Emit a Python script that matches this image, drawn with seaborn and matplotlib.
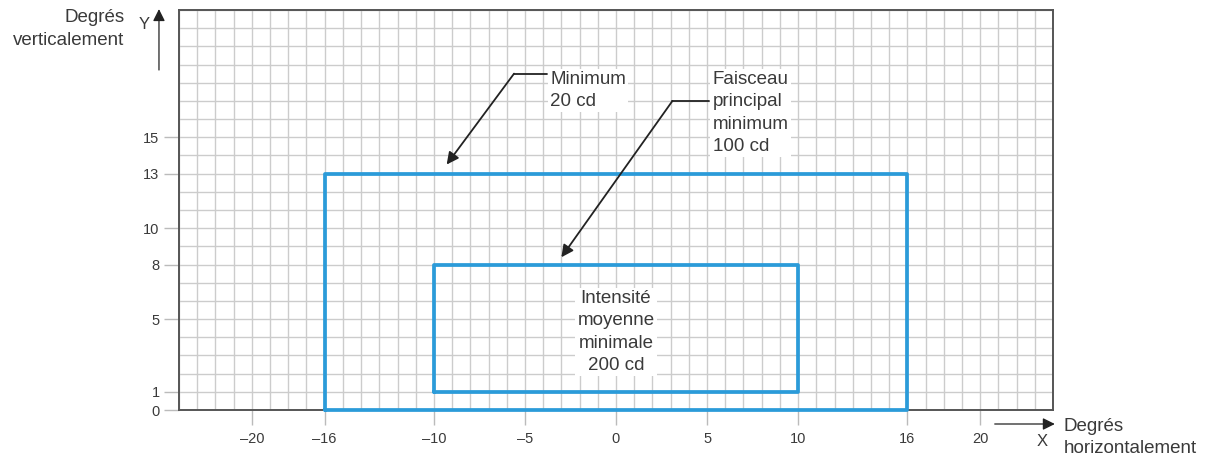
import numpy as np
import matplotlib
matplotlib.use("Agg")
import matplotlib.pyplot as plt
import seaborn as sns
import pandas as pd

# ── Data ────────────────────────────────────────────────────────────────
outer_x = [-16, 16, 16, -16, -16]
outer_y = [0, 0, 13, 13, 0]
inner_x = [-10, 10, 10, -10, -10]
inner_y = [1, 1, 8, 8, 1]

x_ticks = [-20, -16, -10, -5, 0, 5, 10, 16, 20]
x_tick_labels = ["\u201320", "\u201316", "\u201310", "\u20135", "0", "5", "10", "16", "20"]
y_ticks = [0, 1, 5, 8, 10, 13, 15]

label_outer = "Minimum\n20 cd"
label_inner = "Faisceau\nprincipal\nminimum\n100 cd"
label_center = "Intensité\nmoyenne\nminimale\n200 cd"

# ── Style ───────────────────────────────────────────────────────────────
sns.set_style("white")
plt.rcParams['font.family'] = ['Liberation Sans', 'DejaVu Sans']

BLUE = "#2b9bd9"
TXT = "#3a3a3a"
GRID = "#cccccc"
FS = 13.5
LS = 1.42

fig = plt.figure(figsize=(12.1, 4.61), dpi=100)
ax = fig.add_axes([179 / 1210, 51 / 461, 874 / 1210, 400 / 461])

# Rectangles
rects = pd.concat([
    pd.DataFrame({"x": outer_x, "y": outer_y, "zone": "outer", "order": range(5)}),
    pd.DataFrame({"x": inner_x, "y": inner_y, "zone": "inner", "order": range(5)}),
])
sns.lineplot(data=rects, x="x", y="y", units="zone", estimator=None, sort=False,
             color=BLUE, linewidth=2.7, ax=ax, zorder=4, clip_on=False)

ax.set_xlim(-24, 24)
ax.set_ylim(0, 22)
ax.set_xlabel("")
ax.set_ylabel("")

# Grid
ax.set_xticks(np.arange(-24, 25, 1), minor=True)
ax.set_yticks(np.arange(0, 23, 1), minor=True)
ax.set_xticks(x_ticks)
ax.set_xticklabels(x_tick_labels)
ax.set_yticks(y_ticks)
ax.grid(which="both", color=GRID, linewidth=1.0)
ax.set_axisbelow(True)
ax.tick_params(which="minor", length=0, bottom=False, left=False)
ax.tick_params(axis="x", which="major", bottom=True, length=11, width=1,
               color="#bbbbbb", labelsize=10.5, labelcolor=TXT, pad=5)
ax.tick_params(axis="y", which="major", left=True, length=11, width=1,
               color="#bbbbbb", labelsize=10.5, labelcolor=TXT, pad=3)
for s in ax.spines.values():
    s.set_color("#555555")
    s.set_linewidth(1.4)
    s.set_visible(True)

# Annotations with callout arrows
box = dict(facecolor="white", edgecolor="none", pad=1.5)
head = dict(arrowstyle="-|>", color="#222222", lw=1.3, mutation_scale=18,
            shrinkA=0, shrinkB=0)
ax.text(-3.6, 18.65, label_outer, ha="left", va="top", fontsize=FS,
        color=TXT, linespacing=LS, bbox=box, zorder=5)
ax.plot([-3.8, -5.6], [18.5, 18.5], color="#222222", lw=1.3, zorder=5)
ax.annotate("", xy=(-9.3, 13.5), xytext=(-5.6, 18.5), arrowprops=head, zorder=5)

ax.text(5.3, 18.65, label_inner, ha="left", va="top", fontsize=FS,
        color=TXT, linespacing=LS, bbox=box, zorder=5)
ax.plot([5.1, 3.1], [17.0, 17.0], color="#222222", lw=1.3, zorder=5)
ax.annotate("", xy=(-3.0, 8.4), xytext=(3.1, 17.0), arrowprops=head, zorder=5)

ax.text(0, 4.3, label_center, ha="center", va="center", fontsize=FS,
        color=TXT, linespacing=LS, bbox=box, zorder=5)

# Axis arrows and titles outside the grid
arr = dict(arrowstyle="-|>", color="#222222", lw=0.9, mutation_scale=18,
           shrinkA=0, shrinkB=0)
ax.annotate("", xy=(-25.1, 22.05), xytext=(-25.1, 18.7),
            arrowprops=arr, annotation_clip=False)
ax.annotate("", xy=(24.1, -0.77), xytext=(20.8, -0.77),
            arrowprops=arr, annotation_clip=False)
ax.text(-25.9, 21.2, "Y", ha="center", va="center", fontsize=12,
        color=TXT, clip_on=False)
ax.text(23.4, -1.75, "X", ha="center", va="center", fontsize=12,
        color=TXT, clip_on=False)
ax.text(-27.0, 20.95, "Degrés\nverticalement", ha="right", va="center",
        fontsize=FS, color=TXT, linespacing=LS, clip_on=False)
ax.text(24.6, -1.5, "Degrés\nhorizontalement", ha="left", va="center",
        fontsize=FS, color=TXT, linespacing=LS, clip_on=False)

fig.savefig("out.png", dpi=100)
plt.close(fig)
